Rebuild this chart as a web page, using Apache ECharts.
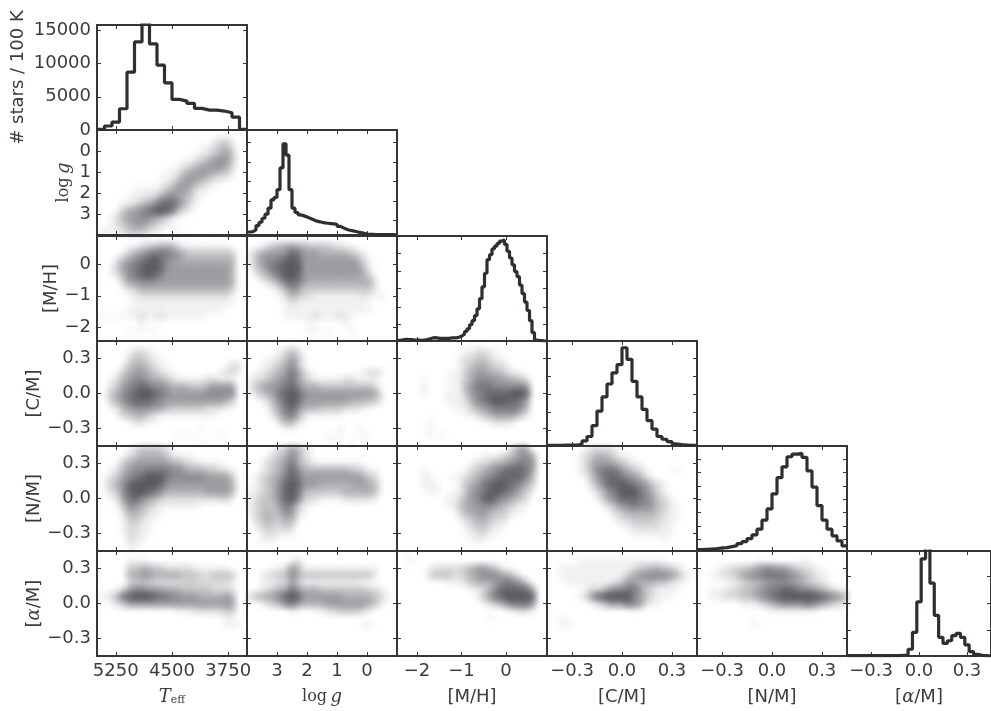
<!DOCTYPE html>
<html><head><meta charset="utf-8">
<style>html,body{margin:0;padding:0;background:#fff;overflow:hidden}#c{width:991px;height:711px}</style>
<script src="https://cdn.jsdelivr.net/npm/echarts@6/dist/echarts.min.js"></script>
</head><body><div id="c"></div>
<script>
// Histograms (Teff in stars per 100 K, the others in relative height)
const histTeff=[100,600,1200,3200,8700,13250,16200,12950,9750,7100,4600,4350,4000,3250,3000,3000,2850,2600,1950,100];
const histLogg=[9,10,15,28,38,50,62,80,105,112,135,200,272,238,135,80,67,60,57,54,50,46,42,40,38,36,35,34,33,32,26,22,18,15,13,11,9,7,5,3,2,2,1,1,1,1,1,1,1,0];
const histMH=[2,3,4,5,4,4,3,3,3,2,3,4,6,8,10,9,8,8,8,8,8,9,9,10,12,15,20,28,36,48,60,75,95,125,160,200,240,255,272,280,288,295,298,285,265,245,225,205,190,165,140,115,90,60,25,3,1,1,0,0];
const histCM=[2,2,2,3,3,3,5,15,28,60,103,145,183,216,240,290,256,191,145,108,75,50,28,20,13,6,4,3,2,2];
const histNM=[4,5,6,7,9,10,13,16,22,28,37,48,65,92,125,170,218,250,280,288,290,278,238,190,135,92,65,45,30,15];
const histAM=[1,1,1,1,1,1,1,1,1,1,1,1,2,3,20,70,160,287,325,215,120,55,37,45,60,67,55,33,13,5,2,1,0];

// Tick positions
const ticksTeff=[5250,4500,3750], ticksLogg=[3,2,1,0], ticksLoggY=[0,1,2,3], ticksMH=[-2,-1,0], ticksAbund=[-0.3,0,0.3];
const ticksHistTeff=[0,5000,10000,15000];
const ticksHistLogg=[45,102,160,218,275], ticksHistMH=[48,101,155,205,258], ticksHistCM=[47,100,153,206,260];
const ticksHistNM=[34,74,115,153,193,233,272], ticksHistAM=[77,155,235];

// Density levels 0-9: 15 rows (top to bottom) of 25 cells (left to right)
const loggTeff=["0000000000000000000000000","0000000000000000000122100","0000000000000000011234200","0000000000000000112345300","0000000000000011234565300","0000000000001123455554200","0000000000011245554322100","0000000000112455432110000","0000001111134554211000000","0000011122456543110000000","0000112345788642100000000","0001345678987321000000000","0012455665431100000000000","0012345543211000000000000","1111233321100100000000000"];
const mhTeff=["0000000000000000000000000","0000011233444211111111000","0000134567776543333333300","0002456789865544444444400","0013567899865555555555400","0012467898755555555555400","0000355666555555555555400","0000123444444444444444300","0000011222222222222222100","0000001111111111111111100","0000011111111111111110000","0101011211211111110000000","0000000100000000000000000","0000010101000000000000000","0000000000000000000000000"];
const mhLogg=["0000000000000000000000000","0012344544333322110000000","1345556875554444432100000","1356678985555555554210000","0346789995555555555310000","0134679985555555555420000","0012357875444444444441000","0000124653333333333331000","0000012432211111111211100","0000001211111111111100000","0000001111111111111110000","0000001111121112110000000","0000000000100000100000000","0000000000110100010000000","0000000000000000000000000"];
const cmTeff=["0000000000000000000000000","0000012211000000000000000","0000023321100000000000000","0000134432110000000000220","0001345543211000000012210","0012456654432111112211100","0023567876654443334555500","0134678998765555556666600","0034678887655555555554300","0012456665543333332221100","0001334432111111111100000","0000012211000000000000000","0000000000000000010000000","0000000000000101000010000","0000000000000000010000000"];
const cmLogg=["0000000000000000000000000","0000012320000000000000000","0001123531000000000000000","0011234631000000000000000","0112345752100000000122100","1223456753211111221111000","1345567864443333333332000","0234578986555555555554100","0012468985555555544433100","0001357864443333222110000","0000246742111111000000000","0000024421000000000000000","0000001100000001001000000","0000000000000101000100000","0000000000000010010000000"];
const nmTeff=["0000012333321000000000000","0000123444432111000000000","0001345555554432211110000","0012456677776654443322100","0123567899976666665555300","0134689999865555555555400","0123689987644444445555400","0012578654322222222223100","0001365432111111100000000","0000244321100000000000000","0000133211000000000000000","0000122110000000000000000","0000122110000000000000000","0000021100000000000000000","0000011000000000000000000"];
const nmLogg=["0000123542100000000000000","0001234642100000000000000","0012345743211111111000000","0012346864444444433211000","0123457875555555555432000","0123468985554444445543000","1123468974333333444443000","1233468963221111222221000","1233357631100000000000000","1234346521000000000000000","0234334410000000000000000","0123223200000000000000000","0012211100000000000000000","0011100000000000000000000","0000000000000000000000000"];
const amTeff=["0000000000000000000000000","0000011110000000000000000","0000033443322222111111000","0000044554444433322333300","0000023332222223222222100","0001256655544433333222200","1124789998776655544445400","0012355555555555555555500","0000000000000111222223300","0000000000000000000001100","0000000000000000000001110","0000000000000000000000000","0000000000000000000000000","0000000000000000000000000","0000000000000000000000000"];
const amLogg=["0000000000000000000000000","0000000120000000000000000","0000112541111111111111000","0012233643333333333331000","0011122531111111111000000","0012344754443333333322100","2344568985555555444443210","0012346754444555555543100","0000000110011223333210000","0000000000000000000000000","0000000000000000000110000","0000000000000000000000000","0000000000000000000000000","0000000000000000000000000","0000000000000000000000000"];
const cmMH=["0000000000000000000000000","0000000000011221100000000","0000000000122332110000000","0000000000123443221000000","0000000001134554432110000","0000100011134666554432000","0000100001145777666666000","0000100011135678888998000","0000000011124678998875000","0000000001113456777764000","0000000000011234555532000","0000010000000011222100000","0000010000000000000000000","0000010100000000000000000","0000000000000000000000000"];
const nmMH=["0000000000000000000355000","0000000000000011123456500","0000000000001223445676600","0000100000012345678887500","0000110001123456788886400","0000111000134578998764300","0000011001135678987643100","0000000011245689765432000","0000000011345566543211000","0000000000244554332110000","0000000000123443221000000","0000000000012332110000000","0000000000011221100000000","0000000000001110000000000","0000000000000000000000000"];
const amMH=["0100000000000000000000000","0010000000000000000000000","0000012222234554311000000","0000023332234566654310000","0000000011123444567653000","0000000000001124688887500","0000000000000135789999800","0000000000000012346777600","0000000000000000001122100","0000000000000001000000000","0000000000000000000000000","0000000000000000000000000","0000000000000000000000000","0000000000000000000000000","0000000000000000000000000"];
const nmCM=["0000001222210000000000000","0000012344321100000000000","0000012455543211000000000","0000012467775432100001000","0000001357887654210000000","0000000246889876532100000","0000000124679997642100000","0000000013568887653210000","0000000001245676653311000","0000000000123444443211000","0000000000012233332211000","0000000000001122222110000","0000000000000011111110000","0000000000000000000100000","0000000000000000000000000"];
const amCM=["0000000000000000000000000","0000011111111111111100000","0011111111111123344332100","0011111111111345666654210","0001111111123554443321100","0000001223566775321111000","0000012578999965321110000","0000000123555765211000000","0000000000000010000000000","0010000000000000000000000","0011000000000000000000000","0000000000000000000000000","0000000000000000000000000","0000000000000000000000000","0000000000000000000000000"];
const amNM=["0000000000000000000000000","0000000000100000011000000","0001122334566554322110000","0011223456677776543211000","0000011233455665543221000","0011122334567788766543211","0011222334567899999987654","0000000111234566667654322","0000000000001111111100000","0000000000000000000000000","0000000001000000000000000","0000000000000000000000000","0000000000000000000000000","0000000000000000000000000","0000000000000000000000000"];

const INK='#3a3c42', LINE='#33353b', HIST='#2d2f35';
const SANS='"DejaVu Sans"', SERIF='"DejaVu Serif"';
const fmt=v=>{const d=Math.abs(v);return (v<0?'\u2212':'')+d.toFixed(1);};
const fmtInt=v=>(v<0?'\u2212':'')+Math.abs(v);
const serifRich={i:{fontFamily:SERIF,fontStyle:'italic',fontSize:18,color:INK},r:{fontFamily:SERIF,fontSize:16,color:INK},s:{fontFamily:SERIF,fontSize:11,color:INK,padding:[7,0,0,0]},t:{fontFamily:SANS,fontSize:18,color:INK}};

// Axis descriptions: [value at left/top, value at right/bottom]
const vars=[
 {x:[5500,3500],y:[-1,4],xt:ticksTeff,yt:ticksLoggY,f:fmtInt,xname:'{i|T}{s|eff}'},
 {x:[4,-1],y:[-1,4],xt:ticksLogg,yt:ticksLoggY,f:fmtInt,xname:'{r|log} {i|g}',yname:'{r|log} {i|g}',hy:ticksHistLogg,hm:313,h:histLogg},
 {x:[-2.45,0.92],y:[0.92,-2.45],xt:ticksMH,yt:ticksMH,f:fmtInt,xname:'{t|[M/H]}',yname:'{t|[M/H]}',hy:ticksHistMH,hm:310,h:histMH},
 {x:[-0.45,0.45],y:[0.45,-0.45],xt:ticksAbund,yt:ticksAbund,f:fmt,xname:'{t|[C/M]}',yname:'{t|[C/M]}',hy:ticksHistCM,hm:310,h:histCM},
 {x:[-0.45,0.45],y:[0.45,-0.45],xt:ticksAbund,yt:ticksAbund,f:fmt,xname:'{t|[N/M]}',yname:'{t|[N/M]}',hy:ticksHistNM,hm:312,h:histNM},
 {x:[-0.45,0.45],y:[0.45,-0.45],xt:ticksAbund,yt:ticksAbund,f:fmt,xname:'{t|[}{i|\u03b1}{t|/M]}',yname:'{t|[}{i|\u03b1}{t|/M]}',hy:ticksHistAM,hm:310,h:histAM}
];
const panels={'1,0':loggTeff,'2,0':mhTeff,'2,1':mhLogg,'3,0':cmTeff,'3,1':cmLogg,'4,0':nmTeff,'4,1':nmLogg,'5,0':amTeff,'5,1':amLogg,'3,2':cmMH,'4,2':nmMH,'5,2':amMH,'4,3':nmCM,'5,3':amCM,'5,4':amNM};
vars[0].hy=ticksHistTeff;vars[0].hm=15800;vars[0].h=histTeff;

const colX=[97,247,397,547,697,847], rowY=[25,130,236,341,446,551], W=150, H=105;
const alphaFor=[0,0.04,0.1,0.17,0.24,0.32,0.4,0.5,0.6,0.72];
const stamp=a=>({type:'radial',x:.5,y:.5,r:.5,colorStops:[{offset:0,color:`rgba(48,50,58,${a})`},{offset:.35,color:`rgba(48,50,58,${a*.72})`},{offset:.7,color:`rgba(48,50,58,${a*.22})`},{offset:1,color:'rgba(48,50,58,0)'}]});
const stamps=alphaFor.map(stamp);

const grid=[],xAxis=[],yAxis=[],series=[];
const axisBase=(range,ticks,isY)=>({type:'value',min:Math.min(...range),max:Math.max(...range),inverse:isY?range[0]<range[1]:range[0]>range[1],
  axisLine:{show:true,onZero:false,lineStyle:{color:LINE,width:2}},
  axisTick:{show:true,inside:true,length:4,customValues:ticks,lineStyle:{color:LINE,width:1}},
  splitLine:{show:false},silent:true});
for(let r=0;r<6;r++)for(let c=0;c<=r;c++){
  const g=grid.length;
  grid.push({left:colX[c],top:rowY[r],width:W,height:H,show:false});
  const vx=vars[c],vy=vars[r],diag=r===c;
  const yr=diag?[vx.hm,0]:vy.y, yt=diag?vx.hy:vy.yt;
  const xi=xAxis.length, yi=yAxis.length;
  const bottom=axisBase(vx.x,vx.xt,false);
  Object.assign(bottom,{gridIndex:g,position:'bottom',axisLabel:r===5?{show:true,customValues:vx.xt,formatter:vx.f,fontFamily:SANS,fontSize:18,color:INK,margin:6,hideOverlap:false}:{show:false}});
  if(r===5){Object.assign(bottom,{name:vx.xname,nameLocation:'middle',nameGap:32,nameTextStyle:{rich:serifRich}});}
  xAxis.push(bottom);
  xAxis.push(Object.assign(axisBase(vx.x,vx.xt,false),{gridIndex:g,position:'top',axisLabel:{show:false}}));
  const left=axisBase(yr,yt,true);
  const showY=c===0;
  Object.assign(left,{gridIndex:g,position:'left',axisLabel:showY?{show:true,customValues:yt,formatter:diag?(v=>String(v)):vy.f,fontFamily:SANS,fontSize:18,color:INK,margin:6,hideOverlap:false}:{show:false}});
  if(showY){
    if(r===0)Object.assign(left,{name:'# stars / 100 K',nameLocation:'middle',nameGap:70,nameTextStyle:{fontFamily:SANS,fontSize:18,color:INK}});
    else Object.assign(left,{name:vy.yname,nameLocation:'middle',nameGap:r===1?24:r===2?36:54,nameTextStyle:{rich:serifRich}});
  }
  yAxis.push(left);
  yAxis.push(Object.assign(axisBase(yr,yt,true),{gridIndex:g,position:'right',axisLabel:{show:false}}));
  if(diag){
    const n=vx.h.length,pts=vx.h.map((v,i)=>[vx.x[0]+(vx.x[1]-vx.x[0])*i/n,v]);
    pts.push([vx.x[1],vx.h[n-1]]);
    series.push({type:'line',xAxisIndex:xi,yAxisIndex:yi,data:pts,step:'end',showSymbol:false,silent:true,clip:true,lineStyle:{color:HIST,width:3.2}});
  }else{
    const rows=panels[r+','+c],data=[];
    rows.forEach((row,ry)=>{for(let cx=0;cx<row.length;cx++){const l=+row[cx];if(!l)continue;
      data.push({value:[vx.x[0]+(vx.x[1]-vx.x[0])*(cx+.5)/row.length,vy.y[0]+(vy.y[1]-vy.y[0])*(ry+.5)/rows.length],itemStyle:{color:stamps[l]}});}});
    series.push({type:'scatter',xAxisIndex:xi,yAxisIndex:yi,data,symbol:'circle',symbolSize:20,silent:true,clip:true,progressive:0,z:1});
  }
}
const chart=echarts.init(document.getElementById('c'),null,{renderer:'canvas'});
chart.setOption({animation:false,backgroundColor:'#fff',tooltip:{show:false},grid,xAxis,yAxis,series});
</script></body></html>
